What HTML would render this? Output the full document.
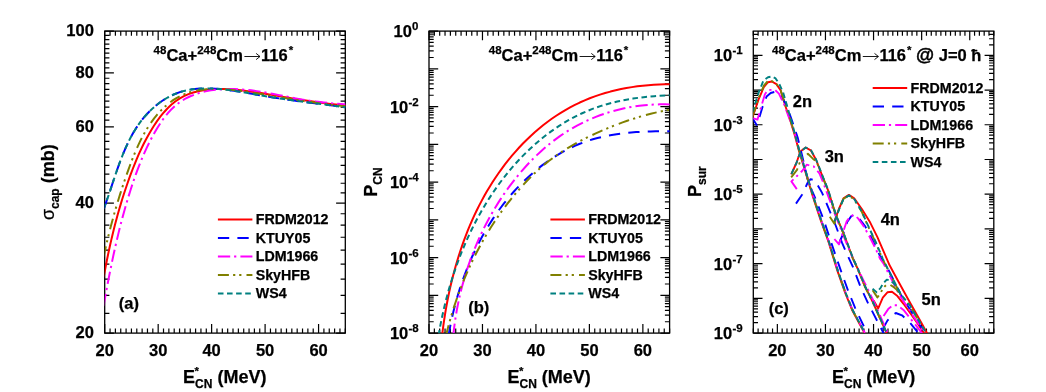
<!DOCTYPE html>
<html><head><meta charset="utf-8"><title>chart</title>
<style>html,body{margin:0;padding:0;background:#fff;}body{width:1046px;height:392px;overflow:hidden;}</style>
</head><body>
<svg width="1046" height="392" viewBox="0 0 1046 392" style="display:block;will-change:transform;font-family:'Liberation Sans',sans-serif;font-weight:bold" fill="#000">
<style>text{stroke:#000;stroke-width:0.25px;stroke-linejoin:round}</style>
<defs><clipPath id="cla"><rect x="104.7" y="31.1" width="240.6" height="302"/></clipPath><clipPath id="clb"><rect x="429" y="31.1" width="240.6" height="302"/></clipPath><clipPath id="clc"><rect x="753.3" y="31.1" width="240.5" height="302"/></clipPath></defs>
<rect width="1046" height="392" fill="#fff"/>
<path d="M104.7,333.1V323.9M104.7,31.1V40.3M110.05,333.1V328.4M110.05,31.1V35.8M115.39,333.1V328.4M115.39,31.1V35.8M120.74,333.1V328.4M120.74,31.1V35.8M126.09,333.1V328.4M126.09,31.1V35.8M131.43,333.1V328.4M131.43,31.1V35.8M136.78,333.1V328.4M136.78,31.1V35.8M142.13,333.1V328.4M142.13,31.1V35.8M147.47,333.1V328.4M147.47,31.1V35.8M152.82,333.1V328.4M152.82,31.1V35.8M158.17,333.1V323.9M158.17,31.1V40.3M163.51,333.1V328.4M163.51,31.1V35.8M168.86,333.1V328.4M168.86,31.1V35.8M174.21,333.1V328.4M174.21,31.1V35.8M179.55,333.1V328.4M179.55,31.1V35.8M184.9,333.1V328.4M184.9,31.1V35.8M190.25,333.1V328.4M190.25,31.1V35.8M195.59,333.1V328.4M195.59,31.1V35.8M200.94,333.1V328.4M200.94,31.1V35.8M206.29,333.1V328.4M206.29,31.1V35.8M211.63,333.1V323.9M211.63,31.1V40.3M216.98,333.1V328.4M216.98,31.1V35.8M222.33,333.1V328.4M222.33,31.1V35.8M227.67,333.1V328.4M227.67,31.1V35.8M233.02,333.1V328.4M233.02,31.1V35.8M238.37,333.1V328.4M238.37,31.1V35.8M243.71,333.1V328.4M243.71,31.1V35.8M249.06,333.1V328.4M249.06,31.1V35.8M254.41,333.1V328.4M254.41,31.1V35.8M259.75,333.1V328.4M259.75,31.1V35.8M265.1,333.1V323.9M265.1,31.1V40.3M270.45,333.1V328.4M270.45,31.1V35.8M275.79,333.1V328.4M275.79,31.1V35.8M281.14,333.1V328.4M281.14,31.1V35.8M286.49,333.1V328.4M286.49,31.1V35.8M291.83,333.1V328.4M291.83,31.1V35.8M297.18,333.1V328.4M297.18,31.1V35.8M302.53,333.1V328.4M302.53,31.1V35.8M307.87,333.1V328.4M307.87,31.1V35.8M313.22,333.1V328.4M313.22,31.1V35.8M318.57,333.1V323.9M318.57,31.1V40.3M323.91,333.1V328.4M323.91,31.1V35.8M329.26,333.1V328.4M329.26,31.1V35.8M334.61,333.1V328.4M334.61,31.1V35.8M339.95,333.1V328.4M339.95,31.1V35.8M345.3,333.1V328.4M345.3,31.1V35.8M104.7,35.32H109.4M345.3,35.32H340.6M104.7,39.63H109.4M345.3,39.63H340.6M104.7,44.05H109.4M345.3,44.05H340.6M104.7,48.57H109.4M345.3,48.57H340.6M104.7,53.2H109.4M345.3,53.2H340.6M104.7,57.95H109.4M345.3,57.95H340.6M104.7,62.83H109.4M345.3,62.83H340.6M104.7,67.83H109.4M345.3,67.83H340.6M104.7,78.26H109.4M345.3,78.26H340.6M104.7,83.7H109.4M345.3,83.7H340.6M104.7,89.3H109.4M345.3,89.3H340.6M104.7,95.07H109.4M345.3,95.07H340.6M104.7,101.03H109.4M345.3,101.03H340.6M104.7,107.18H109.4M345.3,107.18H340.6M104.7,113.54H109.4M345.3,113.54H340.6M104.7,120.13H109.4M345.3,120.13H340.6M104.7,134.03H109.4M345.3,134.03H340.6M104.7,141.39H109.4M345.3,141.39H340.6M104.7,149.05H109.4M345.3,149.05H340.6M104.7,157.04H109.4M345.3,157.04H340.6M104.7,165.38H109.4M345.3,165.38H340.6M104.7,174.11H109.4M345.3,174.11H340.6M104.7,183.27H109.4M345.3,183.27H340.6M104.7,192.89H109.4M345.3,192.89H340.6M104.7,213.76H109.4M345.3,213.76H340.6M104.7,225.14H109.4M345.3,225.14H340.6M104.7,237.25H109.4M345.3,237.25H340.6M104.7,250.19H109.4M345.3,250.19H340.6M104.7,264.1H109.4M345.3,264.1H340.6M104.7,279.12H109.4M345.3,279.12H340.6M104.7,295.45H109.4M345.3,295.45H340.6M104.7,313.33H109.4M345.3,313.33H340.6M104.7,31.1H113.9M345.3,31.1H336.1M104.7,72.97H113.9M345.3,72.97H336.1M104.7,126.95H113.9M345.3,126.95H336.1M104.7,203.04H113.9M345.3,203.04H336.1M104.7,333.1H113.9M345.3,333.1H336.1M429,333.1V323.9M429,31.1V40.3M434.35,333.1V328.4M434.35,31.1V35.8M439.69,333.1V328.4M439.69,31.1V35.8M445.04,333.1V328.4M445.04,31.1V35.8M450.39,333.1V328.4M450.39,31.1V35.8M455.73,333.1V328.4M455.73,31.1V35.8M461.08,333.1V328.4M461.08,31.1V35.8M466.43,333.1V328.4M466.43,31.1V35.8M471.77,333.1V328.4M471.77,31.1V35.8M477.12,333.1V328.4M477.12,31.1V35.8M482.47,333.1V323.9M482.47,31.1V40.3M487.81,333.1V328.4M487.81,31.1V35.8M493.16,333.1V328.4M493.16,31.1V35.8M498.51,333.1V328.4M498.51,31.1V35.8M503.85,333.1V328.4M503.85,31.1V35.8M509.2,333.1V328.4M509.2,31.1V35.8M514.55,333.1V328.4M514.55,31.1V35.8M519.89,333.1V328.4M519.89,31.1V35.8M525.24,333.1V328.4M525.24,31.1V35.8M530.59,333.1V328.4M530.59,31.1V35.8M535.93,333.1V323.9M535.93,31.1V40.3M541.28,333.1V328.4M541.28,31.1V35.8M546.63,333.1V328.4M546.63,31.1V35.8M551.97,333.1V328.4M551.97,31.1V35.8M557.32,333.1V328.4M557.32,31.1V35.8M562.67,333.1V328.4M562.67,31.1V35.8M568.01,333.1V328.4M568.01,31.1V35.8M573.36,333.1V328.4M573.36,31.1V35.8M578.71,333.1V328.4M578.71,31.1V35.8M584.05,333.1V328.4M584.05,31.1V35.8M589.4,333.1V323.9M589.4,31.1V40.3M594.75,333.1V328.4M594.75,31.1V35.8M600.09,333.1V328.4M600.09,31.1V35.8M605.44,333.1V328.4M605.44,31.1V35.8M610.79,333.1V328.4M610.79,31.1V35.8M616.13,333.1V328.4M616.13,31.1V35.8M621.48,333.1V328.4M621.48,31.1V35.8M626.83,333.1V328.4M626.83,31.1V35.8M632.17,333.1V328.4M632.17,31.1V35.8M637.52,333.1V328.4M637.52,31.1V35.8M642.87,333.1V323.9M642.87,31.1V40.3M648.21,333.1V328.4M648.21,31.1V35.8M653.56,333.1V328.4M653.56,31.1V35.8M658.91,333.1V328.4M658.91,31.1V35.8M664.25,333.1V328.4M664.25,31.1V35.8M669.6,333.1V328.4M669.6,31.1V35.8M429,31.1H438.2M669.6,31.1H660.4M429,57.49H433.7M669.6,57.49H664.9M429,50.84H433.7M669.6,50.84H664.9M429,46.12H433.7M669.6,46.12H664.9M429,42.46H433.7M669.6,42.46H664.9M429,39.47H433.7M669.6,39.47H664.9M429,36.95H433.7M669.6,36.95H664.9M429,34.76H433.7M669.6,34.76H664.9M429,32.83H433.7M669.6,32.83H664.9M429,68.85H438.2M669.6,68.85H660.4M429,95.24H433.7M669.6,95.24H664.9M429,88.59H433.7M669.6,88.59H664.9M429,83.87H433.7M669.6,83.87H664.9M429,80.21H433.7M669.6,80.21H664.9M429,77.22H433.7M669.6,77.22H664.9M429,74.7H433.7M669.6,74.7H664.9M429,72.51H433.7M669.6,72.51H664.9M429,70.58H433.7M669.6,70.58H664.9M429,106.6H438.2M669.6,106.6H660.4M429,132.99H433.7M669.6,132.99H664.9M429,126.34H433.7M669.6,126.34H664.9M429,121.62H433.7M669.6,121.62H664.9M429,117.96H433.7M669.6,117.96H664.9M429,114.97H433.7M669.6,114.97H664.9M429,112.45H433.7M669.6,112.45H664.9M429,110.26H433.7M669.6,110.26H664.9M429,108.33H433.7M669.6,108.33H664.9M429,144.35H438.2M669.6,144.35H660.4M429,170.74H433.7M669.6,170.74H664.9M429,164.09H433.7M669.6,164.09H664.9M429,159.37H433.7M669.6,159.37H664.9M429,155.71H433.7M669.6,155.71H664.9M429,152.72H433.7M669.6,152.72H664.9M429,150.2H433.7M669.6,150.2H664.9M429,148.01H433.7M669.6,148.01H664.9M429,146.08H433.7M669.6,146.08H664.9M429,182.1H438.2M669.6,182.1H660.4M429,208.49H433.7M669.6,208.49H664.9M429,201.84H433.7M669.6,201.84H664.9M429,197.12H433.7M669.6,197.12H664.9M429,193.46H433.7M669.6,193.46H664.9M429,190.47H433.7M669.6,190.47H664.9M429,187.95H433.7M669.6,187.95H664.9M429,185.76H433.7M669.6,185.76H664.9M429,183.83H433.7M669.6,183.83H664.9M429,219.85H438.2M669.6,219.85H660.4M429,246.24H433.7M669.6,246.24H664.9M429,239.59H433.7M669.6,239.59H664.9M429,234.87H433.7M669.6,234.87H664.9M429,231.21H433.7M669.6,231.21H664.9M429,228.22H433.7M669.6,228.22H664.9M429,225.7H433.7M669.6,225.7H664.9M429,223.51H433.7M669.6,223.51H664.9M429,221.58H433.7M669.6,221.58H664.9M429,257.6H438.2M669.6,257.6H660.4M429,283.99H433.7M669.6,283.99H664.9M429,277.34H433.7M669.6,277.34H664.9M429,272.62H433.7M669.6,272.62H664.9M429,268.96H433.7M669.6,268.96H664.9M429,265.97H433.7M669.6,265.97H664.9M429,263.45H433.7M669.6,263.45H664.9M429,261.26H433.7M669.6,261.26H664.9M429,259.33H433.7M669.6,259.33H664.9M429,295.35H438.2M669.6,295.35H660.4M429,321.74H433.7M669.6,321.74H664.9M429,315.09H433.7M669.6,315.09H664.9M429,310.37H433.7M669.6,310.37H664.9M429,306.71H433.7M669.6,306.71H664.9M429,303.72H433.7M669.6,303.72H664.9M429,301.2H433.7M669.6,301.2H664.9M429,299.01H433.7M669.6,299.01H664.9M429,297.08H433.7M669.6,297.08H664.9M429,333.1H438.2M669.6,333.1H660.4M753.3,333.1V328.4M753.3,31.1V35.8M758.11,333.1V328.4M758.11,31.1V35.8M762.92,333.1V328.4M762.92,31.1V35.8M767.73,333.1V328.4M767.73,31.1V35.8M772.54,333.1V328.4M772.54,31.1V35.8M777.35,333.1V323.9M777.35,31.1V40.3M782.16,333.1V328.4M782.16,31.1V35.8M786.97,333.1V328.4M786.97,31.1V35.8M791.78,333.1V328.4M791.78,31.1V35.8M796.59,333.1V328.4M796.59,31.1V35.8M801.4,333.1V328.4M801.4,31.1V35.8M806.21,333.1V328.4M806.21,31.1V35.8M811.02,333.1V328.4M811.02,31.1V35.8M815.83,333.1V328.4M815.83,31.1V35.8M820.64,333.1V328.4M820.64,31.1V35.8M825.45,333.1V323.9M825.45,31.1V40.3M830.26,333.1V328.4M830.26,31.1V35.8M835.07,333.1V328.4M835.07,31.1V35.8M839.88,333.1V328.4M839.88,31.1V35.8M844.69,333.1V328.4M844.69,31.1V35.8M849.5,333.1V328.4M849.5,31.1V35.8M854.31,333.1V328.4M854.31,31.1V35.8M859.12,333.1V328.4M859.12,31.1V35.8M863.93,333.1V328.4M863.93,31.1V35.8M868.74,333.1V328.4M868.74,31.1V35.8M873.55,333.1V323.9M873.55,31.1V40.3M878.36,333.1V328.4M878.36,31.1V35.8M883.17,333.1V328.4M883.17,31.1V35.8M887.98,333.1V328.4M887.98,31.1V35.8M892.79,333.1V328.4M892.79,31.1V35.8M897.6,333.1V328.4M897.6,31.1V35.8M902.41,333.1V328.4M902.41,31.1V35.8M907.22,333.1V328.4M907.22,31.1V35.8M912.03,333.1V328.4M912.03,31.1V35.8M916.84,333.1V328.4M916.84,31.1V35.8M921.65,333.1V323.9M921.65,31.1V40.3M926.46,333.1V328.4M926.46,31.1V35.8M931.27,333.1V328.4M931.27,31.1V35.8M936.08,333.1V328.4M936.08,31.1V35.8M940.89,333.1V328.4M940.89,31.1V35.8M945.7,333.1V328.4M945.7,31.1V35.8M950.51,333.1V328.4M950.51,31.1V35.8M955.32,333.1V328.4M955.32,31.1V35.8M960.13,333.1V328.4M960.13,31.1V35.8M964.94,333.1V328.4M964.94,31.1V35.8M969.75,333.1V323.9M969.75,31.1V40.3M974.56,333.1V328.4M974.56,31.1V35.8M979.37,333.1V328.4M979.37,31.1V35.8M984.18,333.1V328.4M984.18,31.1V35.8M988.99,333.1V328.4M988.99,31.1V35.8M993.8,333.1V328.4M993.8,31.1V35.8M753.3,55.3H762.5M993.8,55.3H984.6M753.3,44.85H758M993.8,44.85H989.1M753.3,38.73H758M993.8,38.73H989.1M753.3,34.39H758M993.8,34.39H989.1M753.3,90.03H762.5M993.8,90.03H984.6M753.3,79.57H758M993.8,79.57H989.1M753.3,73.46H758M993.8,73.46H989.1M753.3,69.12H758M993.8,69.12H989.1M753.3,65.75H758M993.8,65.75H989.1M753.3,63H758M993.8,63H989.1M753.3,60.68H758M993.8,60.68H989.1M753.3,58.67H758M993.8,58.67H989.1M753.3,56.89H758M993.8,56.89H989.1M753.3,124.75H762.5M993.8,124.75H984.6M753.3,114.3H758M993.8,114.3H989.1M753.3,108.18H758M993.8,108.18H989.1M753.3,103.84H758M993.8,103.84H989.1M753.3,100.48H758M993.8,100.48H989.1M753.3,97.73H758M993.8,97.73H989.1M753.3,95.4H758M993.8,95.4H989.1M753.3,93.39H758M993.8,93.39H989.1M753.3,91.61H758M993.8,91.61H989.1M753.3,159.48H762.5M993.8,159.48H984.6M753.3,149.02H758M993.8,149.02H989.1M753.3,142.91H758M993.8,142.91H989.1M753.3,138.57H758M993.8,138.57H989.1M753.3,135.2H758M993.8,135.2H989.1M753.3,132.45H758M993.8,132.45H989.1M753.3,130.13H758M993.8,130.13H989.1M753.3,128.12H758M993.8,128.12H989.1M753.3,126.34H758M993.8,126.34H989.1M753.3,194.2H762.5M993.8,194.2H984.6M753.3,183.75H758M993.8,183.75H989.1M753.3,177.63H758M993.8,177.63H989.1M753.3,173.29H758M993.8,173.29H989.1M753.3,169.93H758M993.8,169.93H989.1M753.3,167.18H758M993.8,167.18H989.1M753.3,164.85H758M993.8,164.85H989.1M753.3,162.84H758M993.8,162.84H989.1M753.3,161.06H758M993.8,161.06H989.1M753.3,228.93H762.5M993.8,228.93H984.6M753.3,218.47H758M993.8,218.47H989.1M753.3,212.36H758M993.8,212.36H989.1M753.3,208.02H758M993.8,208.02H989.1M753.3,204.65H758M993.8,204.65H989.1M753.3,201.9H758M993.8,201.9H989.1M753.3,199.58H758M993.8,199.58H989.1M753.3,197.57H758M993.8,197.57H989.1M753.3,195.79H758M993.8,195.79H989.1M753.3,263.65H762.5M993.8,263.65H984.6M753.3,253.2H758M993.8,253.2H989.1M753.3,247.08H758M993.8,247.08H989.1M753.3,242.74H758M993.8,242.74H989.1M753.3,239.38H758M993.8,239.38H989.1M753.3,236.63H758M993.8,236.63H989.1M753.3,234.3H758M993.8,234.3H989.1M753.3,232.29H758M993.8,232.29H989.1M753.3,230.51H758M993.8,230.51H989.1M753.3,298.38H762.5M993.8,298.38H984.6M753.3,287.92H758M993.8,287.92H989.1M753.3,281.81H758M993.8,281.81H989.1M753.3,277.47H758M993.8,277.47H989.1M753.3,274.1H758M993.8,274.1H989.1M753.3,271.35H758M993.8,271.35H989.1M753.3,269.03H758M993.8,269.03H989.1M753.3,267.02H758M993.8,267.02H989.1M753.3,265.24H758M993.8,265.24H989.1M753.3,333.1H762.5M993.8,333.1H984.6M753.3,322.65H758M993.8,322.65H989.1M753.3,316.53H758M993.8,316.53H989.1M753.3,312.19H758M993.8,312.19H989.1M753.3,308.83H758M993.8,308.83H989.1M753.3,306.08H758M993.8,306.08H989.1M753.3,303.75H758M993.8,303.75H989.1M753.3,301.74H758M993.8,301.74H989.1M753.3,299.96H758M993.8,299.96H989.1" fill="none" stroke="#000" stroke-width="1.2"/>
<rect x="104.7" y="31.1" width="240.6" height="302" fill="none" stroke="#000" stroke-width="1.3"/>
<text x="104.7" y="356.3" font-size="16.5" text-anchor="middle" >20</text>
<text x="158.17" y="356.3" font-size="16.5" text-anchor="middle" >30</text>
<text x="211.63" y="356.3" font-size="16.5" text-anchor="middle" >40</text>
<text x="265.1" y="356.3" font-size="16.5" text-anchor="middle" >50</text>
<text x="318.57" y="356.3" font-size="16.5" text-anchor="middle" >60</text>
<text x="93.9" y="36" font-size="16.5" text-anchor="end" >100</text>
<text x="93.9" y="77.87" font-size="16.5" text-anchor="end" >80</text>
<text x="93.9" y="131.85" font-size="16.5" text-anchor="end" >60</text>
<text x="93.9" y="207.94" font-size="16.5" text-anchor="end" >40</text>
<text x="93.9" y="338" font-size="16.5" text-anchor="end" >20</text>
<rect x="429" y="31.1" width="240.6" height="302" fill="none" stroke="#000" stroke-width="1.3"/>
<text x="429" y="356.3" font-size="16.5" text-anchor="middle" >20</text>
<text x="482.47" y="356.3" font-size="16.5" text-anchor="middle" >30</text>
<text x="535.93" y="356.3" font-size="16.5" text-anchor="middle" >40</text>
<text x="589.4" y="356.3" font-size="16.5" text-anchor="middle" >50</text>
<text x="642.87" y="356.3" font-size="16.5" text-anchor="middle" >60</text>
<text x="411.9" y="37" font-size="16.5" text-anchor="end">10</text>
<text x="412.09999999999997" y="30" font-size="11.5" text-anchor="start">0</text>
<text x="408.3" y="112.5" font-size="16.5" text-anchor="end">10</text>
<text x="408.5" y="105.5" font-size="11.5" text-anchor="start">-2</text>
<text x="408.3" y="188" font-size="16.5" text-anchor="end">10</text>
<text x="408.5" y="181" font-size="11.5" text-anchor="start">-4</text>
<text x="408.3" y="263.5" font-size="16.5" text-anchor="end">10</text>
<text x="408.5" y="256.5" font-size="11.5" text-anchor="start">-6</text>
<text x="408.3" y="339" font-size="16.5" text-anchor="end">10</text>
<text x="408.5" y="332" font-size="11.5" text-anchor="start">-8</text>
<rect x="753.3" y="31.1" width="240.5" height="302" fill="none" stroke="#000" stroke-width="1.3"/>
<text x="777.35" y="356.3" font-size="16.5" text-anchor="middle" >20</text>
<text x="825.45" y="356.3" font-size="16.5" text-anchor="middle" >30</text>
<text x="873.55" y="356.3" font-size="16.5" text-anchor="middle" >40</text>
<text x="921.65" y="356.3" font-size="16.5" text-anchor="middle" >50</text>
<text x="969.75" y="356.3" font-size="16.5" text-anchor="middle" >60</text>
<text x="732.2" y="61.2" font-size="16.5" text-anchor="end">10</text>
<text x="732.5" y="54.2" font-size="11.5" text-anchor="start">-1</text>
<text x="732.2" y="130.65" font-size="16.5" text-anchor="end">10</text>
<text x="732.5" y="123.65" font-size="11.5" text-anchor="start">-3</text>
<text x="732.2" y="200.1" font-size="16.5" text-anchor="end">10</text>
<text x="732.5" y="193.1" font-size="11.5" text-anchor="start">-5</text>
<text x="732.2" y="269.55" font-size="16.5" text-anchor="end">10</text>
<text x="732.5" y="262.55" font-size="11.5" text-anchor="start">-7</text>
<text x="732.2" y="339" font-size="16.5" text-anchor="end">10</text>
<text x="732.5" y="332" font-size="11.5" text-anchor="start">-9</text>
<path d="M103.73,277.11 L104.69,271.82 L105.68,266.54 L106.7,261.28 L107.77,256.03 L108.86,250.8 L110,245.58 L111.18,240.38 L112.4,235.19 L113.66,230.02 L114.97,224.86 L116.32,219.72 L117.72,214.59 L119.16,209.49 L120.66,204.39 L122.2,199.32 L123.8,194.26 L125.46,189.22 L127.16,184.2 L128.93,179.2 L130.75,174.21 L132.63,169.24 L134.57,164.29 L136.59,159.37 L138.7,154.47 L140.91,149.59 L143.23,144.75 L145.69,139.93 L148.28,135.15 L151.04,130.41 L153.95,125.71 L157.04,121.12 L160.31,116.68 L163.76,112.45 L167.4,108.48 L171.23,104.82 L175.25,101.52 L179.48,98.64 L183.9,96.19 L188.51,94.15 L193.27,92.49 L198.19,91.18 L203.23,90.2 L208.38,89.51 L213.64,89.1 L218.97,88.94 L224.37,89 L229.81,89.25 L235.29,89.67 L240.78,90.23 L246.27,90.91 L251.73,91.67 L257.17,92.5 L262.55,93.36 L267.87,94.24 L273.13,95.12 L278.35,96 L283.53,96.88 L288.69,97.76 L293.84,98.62 L298.98,99.47 L304.12,100.29 L309.29,101.09 L314.48,101.86 L319.7,102.59 L324.98,103.28 L330.31,103.93 L335.71,104.53 L341.18,105.07 L346.75,105.55" fill="none" stroke="#ff0000" stroke-width="2.0" clip-path="url(#cla)" stroke-linejoin="round"/>
<path d="M103.69,208.79 L105.2,204.81 L106.67,200.74 L108.12,196.6 L109.55,192.39 L110.97,188.12 L112.4,183.81 L113.84,179.47 L115.3,175.1 L116.8,170.72 L118.34,166.34 L119.93,161.97 L121.59,157.62 L123.32,153.3 L125.13,149.02 L127.04,144.8 L129.04,140.64 L131.16,136.55 L133.41,132.55 L135.78,128.65 L138.3,124.85 L140.97,121.18 L143.8,117.63 L146.79,114.22 L149.92,110.97 L153.21,107.89 L156.63,104.99 L160.19,102.28 L163.88,99.78 L167.69,97.51 L171.62,95.47 L175.66,93.69 L179.81,92.16 L184.06,90.91 L188.4,89.94 L192.82,89.22 L197.3,88.73 L201.83,88.46 L206.4,88.38 L210.99,88.47 L215.59,88.71 L220.19,89.08 L224.78,89.55 L229.37,90.13 L233.94,90.78 L238.51,91.49 L243.07,92.25 L247.62,93.05 L252.15,93.86 L256.68,94.67 L261.19,95.47 L265.69,96.24 L270.18,96.98 L274.65,97.69 L279.12,98.38 L283.59,99.04 L288.05,99.69 L292.5,100.32 L296.96,100.94 L301.42,101.54 L305.89,102.13 L310.36,102.72 L314.84,103.3 L319.33,103.88 L323.83,104.46 L328.34,105.05 L332.88,105.63 L337.43,106.23 L342,106.83 L346.59,107.45" fill="none" stroke="#0000ff" stroke-width="2.0" stroke-dasharray="11.3 8.2" clip-path="url(#cla)" stroke-linejoin="round"/>
<path d="M103.58,306.01 L104.58,300.43 L105.59,294.85 L106.62,289.27 L107.67,283.69 L108.75,278.1 L109.84,272.52 L110.97,266.95 L112.12,261.38 L113.3,255.81 L114.52,250.25 L115.76,244.7 L117.05,239.16 L118.37,233.63 L119.73,228.11 L121.14,222.61 L122.59,217.12 L124.08,211.65 L125.62,206.2 L127.21,200.76 L128.86,195.35 L130.55,189.95 L132.31,184.58 L134.12,179.24 L136,173.92 L137.96,168.62 L140,163.35 L142.15,158.1 L144.41,152.87 L146.8,147.68 L149.31,142.5 L151.97,137.36 L154.79,132.24 L157.78,127.18 L160.96,122.25 L164.34,117.52 L167.95,113.05 L171.8,108.9 L175.91,105.15 L180.29,101.84 L184.93,98.97 L189.79,96.51 L194.85,94.44 L200.09,92.73 L205.48,91.38 L211,90.35 L216.62,89.62 L222.32,89.17 L228.07,88.98 L233.85,89.03 L239.63,89.28 L245.39,89.73 L251.11,90.35 L256.78,91.12 L262.42,92 L268.02,92.98 L273.6,94.02 L279.17,95.11 L284.72,96.21 L290.27,97.31 L295.82,98.37 L301.39,99.38 L306.96,100.3 L312.57,101.12 L318.19,101.84 L323.83,102.49 L329.5,103.07 L335.18,103.61 L340.88,104.12 L346.59,104.62" fill="none" stroke="#ff00ff" stroke-width="2.0" stroke-dasharray="12.3 3.9 2.2 4.1" clip-path="url(#cla)" stroke-linejoin="round"/>
<path d="M103.5,257.11 L104.62,252.01 L105.76,246.96 L106.93,241.95 L108.14,236.97 L109.37,232.02 L110.63,227.1 L111.93,222.2 L113.25,217.32 L114.62,212.47 L116.02,207.63 L117.45,202.8 L118.92,197.98 L120.44,193.17 L121.99,188.36 L123.59,183.55 L125.22,178.74 L126.91,173.92 L128.63,169.09 L130.41,164.26 L132.25,159.42 L134.17,154.61 L136.18,149.83 L138.3,145.09 L140.54,140.41 L142.92,135.81 L145.46,131.29 L148.16,126.88 L151.04,122.58 L154.12,118.41 L157.39,114.41 L160.85,110.6 L164.49,107.03 L168.31,103.72 L172.29,100.71 L176.44,98.05 L180.75,95.75 L185.2,93.83 L189.79,92.26 L194.5,91.03 L199.33,90.1 L204.24,89.45 L209.25,89.07 L214.32,88.91 L219.46,88.97 L224.64,89.21 L229.85,89.62 L235.08,90.16 L240.33,90.82 L245.57,91.56 L250.79,92.37 L255.98,93.22 L261.13,94.09 L266.23,94.96 L271.28,95.81 L276.28,96.65 L281.26,97.48 L286.21,98.29 L291.14,99.09 L296.07,99.87 L300.99,100.63 L305.93,101.36 L310.88,102.08 L315.86,102.78 L320.87,103.45 L325.92,104.09 L331.02,104.71 L336.19,105.31 L341.41,105.87 L346.72,106.4" fill="none" stroke="#808000" stroke-width="2.0" stroke-dasharray="11 4.2 2.2 3.9 2.2 5.1" clip-path="url(#cla)" stroke-linejoin="round"/>
<path d="M103.69,208.79 L105.2,204.81 L106.67,200.74 L108.12,196.6 L109.55,192.39 L110.97,188.12 L112.4,183.81 L113.84,179.47 L115.3,175.1 L116.8,170.72 L118.34,166.34 L119.93,161.97 L121.59,157.62 L123.32,153.3 L125.13,149.02 L127.04,144.8 L129.04,140.64 L131.16,136.55 L133.41,132.55 L135.78,128.65 L138.3,124.85 L140.97,121.18 L143.8,117.63 L146.79,114.22 L149.92,110.97 L153.21,107.89 L156.63,104.99 L160.19,102.28 L163.88,99.78 L167.69,97.51 L171.62,95.47 L175.66,93.69 L179.81,92.16 L184.06,90.91 L188.4,89.94 L192.82,89.22 L197.3,88.73 L201.83,88.46 L206.4,88.38 L210.99,88.47 L215.59,88.71 L220.19,89.08 L224.78,89.55 L229.37,90.13 L233.94,90.78 L238.51,91.49 L243.07,92.25 L247.62,93.05 L252.15,93.86 L256.68,94.67 L261.19,95.47 L265.69,96.24 L270.18,96.98 L274.65,97.69 L279.12,98.38 L283.59,99.04 L288.05,99.69 L292.5,100.32 L296.96,100.94 L301.42,101.54 L305.89,102.13 L310.36,102.72 L314.84,103.3 L319.33,103.88 L323.83,104.46 L328.34,105.05 L332.88,105.63 L337.43,106.23 L342,106.83 L346.59,107.45" fill="none" stroke="#008080" stroke-width="2.0" stroke-dasharray="5.6 3.5" clip-path="url(#cla)" stroke-linejoin="round"/>
<path d="M442.07,335.8 L442.71,330.48 L443.41,325.15 L444.18,319.82 L445,314.48 L445.9,309.14 L446.86,303.8 L447.88,298.47 L448.97,293.14 L450.13,287.82 L451.37,282.51 L452.67,277.21 L454.05,271.92 L455.5,266.66 L457.02,261.41 L458.62,256.19 L460.3,250.99 L462.06,245.81 L463.9,240.67 L465.82,235.56 L467.82,230.48 L469.9,225.43 L472.07,220.43 L474.32,215.46 L476.67,210.54 L479.1,205.66 L481.61,200.84 L484.22,196.06 L486.92,191.33 L489.72,186.66 L492.61,182.04 L495.59,177.49 L498.67,172.99 L501.85,168.56 L505.12,164.2 L508.49,159.91 L511.96,155.69 L515.53,151.56 L519.19,147.51 L522.94,143.55 L526.79,139.69 L530.72,135.93 L534.75,132.27 L538.87,128.73 L543.07,125.29 L547.36,121.98 L551.74,118.79 L556.2,115.73 L560.75,112.8 L565.38,110.02 L570.1,107.37 L574.89,104.88 L579.76,102.53 L584.71,100.34 L589.73,98.3 L594.82,96.41 L599.97,94.66 L605.17,93.05 L610.43,91.59 L615.73,90.27 L621.08,89.08 L626.46,88.03 L631.87,87.12 L637.31,86.33 L642.77,85.68 L648.25,85.15 L653.74,84.75 L659.23,84.47 L664.73,84.31 L670.23,84.27" fill="none" stroke="#ff0000" stroke-width="2.0" clip-path="url(#clb)" stroke-linejoin="round"/>
<path d="M448.5,335.84 L449.3,331.15 L450.18,326.46 L451.12,321.77 L452.14,317.07 L453.22,312.39 L454.38,307.71 L455.6,303.03 L456.9,298.37 L458.27,293.72 L459.71,289.09 L461.23,284.47 L462.82,279.88 L464.48,275.3 L466.21,270.75 L468.02,266.23 L469.9,261.74 L471.86,257.27 L473.89,252.84 L476,248.45 L478.18,244.1 L480.43,239.78 L482.76,235.51 L485.17,231.29 L487.66,227.11 L490.22,222.98 L492.85,218.9 L495.57,214.88 L498.36,210.91 L501.23,207.01 L504.18,203.16 L507.2,199.38 L510.31,195.66 L513.49,192.02 L516.76,188.44 L520.1,184.93 L523.52,181.51 L527.02,178.16 L530.6,174.89 L534.26,171.72 L537.99,168.63 L541.79,165.65 L545.67,162.77 L549.62,160 L553.64,157.34 L557.73,154.8 L561.89,152.39 L566.12,150.09 L570.42,147.94 L574.78,145.92 L579.2,144.04 L583.69,142.3 L588.24,140.72 L592.84,139.29 L597.51,138.01 L602.22,136.87 L606.97,135.86 L611.77,134.97 L616.59,134.2 L621.44,133.53 L626.3,132.97 L631.19,132.5 L636.08,132.12 L640.97,131.81 L645.86,131.58 L650.74,131.41 L655.6,131.29 L660.44,131.22 L665.26,131.19 L670.05,131.19" fill="none" stroke="#0000ff" stroke-width="2.0" stroke-dasharray="11.3 8.2" clip-path="url(#clb)" stroke-linejoin="round"/>
<path d="M453.25,335.76 L453.77,330.8 L454.38,325.83 L455.06,320.87 L455.83,315.91 L456.67,310.95 L457.6,306 L458.61,301.06 L459.7,296.13 L460.87,291.21 L462.13,286.3 L463.46,281.41 L464.87,276.54 L466.37,271.69 L467.94,266.86 L469.59,262.06 L471.33,257.28 L473.14,252.53 L475.04,247.8 L477.01,243.11 L479.06,238.45 L481.19,233.83 L483.4,229.25 L485.69,224.7 L488.06,220.2 L490.51,215.73 L493.03,211.32 L495.64,206.95 L498.32,202.62 L501.08,198.35 L503.92,194.13 L506.84,189.97 L509.83,185.86 L512.91,181.81 L516.05,177.82 L519.28,173.89 L522.59,170.04 L525.97,166.25 L529.43,162.54 L532.97,158.91 L536.58,155.37 L540.28,151.91 L544.05,148.55 L547.9,145.3 L551.83,142.14 L555.84,139.09 L559.92,136.16 L564.09,133.34 L568.33,130.64 L572.64,128.06 L577.03,125.61 L581.48,123.29 L586.01,121.09 L590.6,119.03 L595.25,117.1 L599.97,115.3 L604.74,113.64 L609.56,112.11 L614.43,110.72 L619.35,109.46 L624.31,108.34 L629.31,107.35 L634.34,106.5 L639.41,105.79 L644.51,105.22 L649.63,104.78 L654.77,104.48 L659.93,104.32 L665.11,104.3 L670.3,104.42" fill="none" stroke="#ff00ff" stroke-width="2.0" stroke-dasharray="12.3 3.9 2.2 4.1" clip-path="url(#clb)" stroke-linejoin="round"/>
<path d="M445.91,335.91 L447.07,331.19 L448.29,326.47 L449.58,321.75 L450.92,317.05 L452.33,312.35 L453.8,307.67 L455.33,303.01 L456.92,298.35 L458.58,293.72 L460.3,289.11 L462.08,284.51 L463.92,279.94 L465.82,275.39 L467.79,270.86 L469.82,266.36 L471.91,261.89 L474.07,257.45 L476.29,253.04 L478.57,248.67 L480.91,244.33 L483.32,240.02 L485.79,235.75 L488.32,231.52 L490.91,227.33 L493.57,223.18 L496.3,219.08 L499.08,215.02 L501.93,211.01 L504.85,207.05 L507.82,203.13 L510.86,199.27 L513.97,195.46 L517.14,191.7 L520.37,188.01 L523.67,184.37 L527.03,180.79 L530.46,177.28 L533.97,173.85 L537.55,170.51 L541.2,167.25 L544.94,164.1 L548.76,161.05 L552.66,158.09 L556.64,155.25 L560.69,152.5 L564.82,149.85 L569.01,147.3 L573.26,144.84 L577.57,142.46 L581.93,140.16 L586.32,137.93 L590.76,135.77 L595.23,133.67 L599.73,131.64 L604.25,129.66 L608.8,127.75 L613.38,125.9 L617.98,124.12 L622.6,122.41 L627.24,120.78 L631.91,119.22 L636.59,117.74 L641.3,116.33 L646.02,115.01 L650.77,113.78 L655.53,112.63 L660.3,111.58 L665.09,110.61 L669.9,109.74" fill="none" stroke="#808000" stroke-width="2.0" stroke-dasharray="11 4.2 2.2 3.9 2.2 5.1" clip-path="url(#clb)" stroke-linejoin="round"/>
<path d="M438.56,335.64 L439.43,330.53 L440.37,325.41 L441.37,320.29 L442.45,315.17 L443.59,310.05 L444.79,304.93 L446.07,299.81 L447.42,294.71 L448.83,289.61 L450.32,284.53 L451.87,279.46 L453.5,274.4 L455.2,269.37 L456.97,264.36 L458.82,259.37 L460.73,254.4 L462.73,249.46 L464.79,244.56 L466.93,239.68 L469.15,234.84 L471.44,230.04 L473.81,225.27 L476.26,220.55 L478.78,215.87 L481.38,211.23 L484.06,206.64 L486.82,202.11 L489.66,197.62 L492.58,193.19 L495.58,188.82 L498.66,184.51 L501.83,180.25 L505.07,176.07 L508.4,171.94 L511.81,167.89 L515.31,163.9 L518.89,159.99 L522.55,156.16 L526.3,152.41 L530.13,148.75 L534.03,145.18 L538.02,141.71 L542.09,138.33 L546.23,135.06 L550.45,131.91 L554.75,128.86 L559.13,125.94 L563.58,123.13 L568.11,120.46 L572.71,117.91 L577.38,115.51 L582.13,113.24 L586.95,111.12 L591.83,109.15 L596.79,107.33 L601.82,105.67 L606.9,104.16 L612.04,102.79 L617.23,101.55 L622.45,100.44 L627.71,99.46 L632.99,98.59 L638.3,97.83 L643.62,97.18 L648.94,96.62 L654.26,96.16 L659.58,95.78 L664.88,95.48 L670.16,95.25" fill="none" stroke="#008080" stroke-width="2.0" stroke-dasharray="5.6 3.5" clip-path="url(#clb)" stroke-linejoin="round"/>
<path d="M752.3,118 L758.4,99.9 L763.8,87.2 L768,82.2 L771.8,81.5 L776.4,84.1 L780.6,90.3 L785.6,106.8 L789.6,118.3 L794.7,134.9 L798.7,149.9 L803.3,165 L812.9,196.8 L820.6,219.9 L828.3,241.3 L837.6,271.4 L845.2,292.9 L852.1,310 L865,334" fill="none" stroke="#ff0000" stroke-width="1.9" clip-path="url(#clc)" stroke-linejoin="round"/>
<path d="M791.2,174.4 L796.4,163 L800.4,151.5 L805.6,147.5 L810.8,150.3 L815.9,159.5 L822.1,175.3 L828.2,190.6 L835.9,215.3 L843.6,233.7 L852.8,258.2 L857.5,268.4 L865.1,286.8 L872.8,302.1 L887,334" fill="none" stroke="#ff0000" stroke-width="1.9" clip-path="url(#clc)" stroke-linejoin="round"/>
<path d="M834.4,221.4 L838.9,209 L843.5,198.3 L848.9,194.9 L854.2,198.3 L862,209.2 L869.6,221.4 L877.3,236.8 L889.6,265.3 L898.8,282.2 L908,299 L921.9,323.7 L927.5,334" fill="none" stroke="#ff0000" stroke-width="1.9" clip-path="url(#clc)" stroke-linejoin="round"/>
<path d="M873.6,300.5 L878.2,308.4 L882.8,297.7 L887.4,292.3 L892,291.8 L897.4,296.1 L903.5,303.8 L911.2,314.5 L918.8,325.2 L924.5,334" fill="none" stroke="#ff0000" stroke-width="1.9" clip-path="url(#clc)" stroke-linejoin="round"/>
<path d="M752,117.5 L757,125.5" fill="none" stroke="#0000ff" stroke-width="1.9" stroke-dasharray="11.3 8.2" clip-path="url(#clc)" stroke-linejoin="round"/>
<path d="M759.5,117 L762.6,106.8 L766.6,96.5 L770.7,93 L774.7,91.9 L778.5,93.5 L781.8,96.8 L786.7,105.7 L791.8,120 L797.6,137.2 L802.1,155.6 L808.5,182.5 L816,200 L823.7,219.9 L831.3,242.9 L840.6,269.9 L848.3,291.3 L855.2,308.2 L867.5,334" fill="none" stroke="#0000ff" stroke-width="1.9" stroke-dasharray="11.3 8.2" clip-path="url(#clc)" stroke-linejoin="round"/>
<path d="M796,203.6 L802.2,194.5 L807.5,183 L810.6,179.1 L815,180.5 L822.1,192.9 L828.3,207.7 L835.9,226 L842.1,242.9 L846.7,253.6 L852.9,266.8 L860.5,286.8 L868.2,303.6 L884,334" fill="none" stroke="#0000ff" stroke-width="1.9" stroke-dasharray="11.3 8.2" clip-path="url(#clc)" stroke-linejoin="round"/>
<path d="M839.5,242 L843.3,233.5 L847.2,222 L851.3,216.1 L854.8,214.6 L858.8,218 L865,226 L871,237 L877,249.5 L881.6,259.5 L886,265 L893.5,280 L901,295 L908.6,307.2 L925.4,334" fill="none" stroke="#0000ff" stroke-width="1.9" stroke-dasharray="11.3 8.2" clip-path="url(#clc)" stroke-linejoin="round"/>
<path d="M882.8,329 L887.4,320.6 L891.5,316 L895.8,313 L902,315.3 L909.6,322.2 L915.8,329.8 L919,334" fill="none" stroke="#0000ff" stroke-width="1.9" stroke-dasharray="11.3 8.2" clip-path="url(#clc)" stroke-linejoin="round"/>
<path d="M752,117.8 L757.5,119.6 L761.5,105.7 L764.9,94.2 L767.8,90.2 L774.7,89.6 L778.9,93.6 L784.2,104.5 L788.8,117.1 L792.2,126.3 L795.2,134.9 L799.2,149.9 L803.8,165 L813.4,196.8 L821.1,219.9 L828.8,241.3 L838.1,271.4 L845.7,292.9 L852.6,310 L865.5,334" fill="none" stroke="#ff00ff" stroke-width="1.9" stroke-dasharray="12.3 3.9 2.2 4.1" clip-path="url(#clc)" stroke-linejoin="round"/>
<path d="M796.8,189.1 L791.4,181.4 L797,176 L802.1,171 L806.7,164.7 L813.6,166.4 L819.4,173.3 L823.4,183 L828.5,197 L833.5,210.5 L839,224.5 L846.8,244 L854.5,262 L865.2,284 L873.8,301.5 L888.2,334" fill="none" stroke="#ff00ff" stroke-width="1.9" stroke-dasharray="12.3 3.9 2.2 4.1" clip-path="url(#clc)" stroke-linejoin="round"/>
<path d="M834.4,239 L839,244.4 L842.8,232.9 L846.7,221.4 L850.5,216.1 L854.3,215 L858.1,218.4 L863.5,226 L869.6,236.8 L875.8,249 L880.2,259 L883.8,264 L891.5,279.3 L899.2,294.6 L907.4,306.9 L925,334" fill="none" stroke="#ff00ff" stroke-width="1.9" stroke-dasharray="12.3 3.9 2.2 4.1" clip-path="url(#clc)" stroke-linejoin="round"/>
<path d="M883.6,316 L888.2,309.1 L892.8,305.3 L897.4,305.3 L903.5,309.9 L909.6,317.6 L915.8,325.2 L922.5,334" fill="none" stroke="#ff00ff" stroke-width="1.9" stroke-dasharray="12.3 3.9 2.2 4.1" clip-path="url(#clc)" stroke-linejoin="round"/>
<path d="M752.3,117.5 L758.4,98.5 L763.8,85.7 L768,80.7 L771.8,81 L776.4,83.8 L780.6,90 L785.6,106 L789.9,118.3 L795,134.9 L799,149.9 L803.6,165 L813.2,196.8 L820.9,219.9 L828.6,241.3 L837.9,271.4 L845.5,292.9 L852.4,310 L865.3,334" fill="none" stroke="#808000" stroke-width="1.9" stroke-dasharray="11 4.2 2.2 3.9 2.2 5.1" clip-path="url(#clc)" stroke-linejoin="round"/>
<path d="M791.2,177.3 L797,169.9 L801.5,158 L807.9,153.8 L813.1,158.9 L816.5,161.5 L822.1,175.8 L828.2,191 L835.9,215.6 L843.6,234 L852.8,258.4 L857.5,268.6 L865.1,287 L872.8,302.3 L887,334" fill="none" stroke="#808000" stroke-width="1.9" stroke-dasharray="11 4.2 2.2 3.9 2.2 5.1" clip-path="url(#clc)" stroke-linejoin="round"/>
<path d="M829.8,216.8 L834.4,223.7 L838.9,209.5 L843.5,198.8 L848.9,195.6 L854.2,199.5 L861.9,212.1 L866.6,223 L875.8,242.9 L882.6,259 L885,263.8 L892.7,279.1 L900.4,294.4 L909.6,305.3 L920.4,323.7 L926.5,334" fill="none" stroke="#808000" stroke-width="1.9" stroke-dasharray="11 4.2 2.2 3.9 2.2 5.1" clip-path="url(#clc)" stroke-linejoin="round"/>
<path d="M872.6,290.3 L877.4,297.4 L880,294 L883.2,288 L886.5,284.6 L889.3,284.2 L893,286.6 L896.5,289.5 L900,294" fill="none" stroke="#808000" stroke-width="1.9" stroke-dasharray="11 4.2 2.2 3.9 2.2 5.1" clip-path="url(#clc)" stroke-linejoin="round"/>
<path d="M752.3,112.5 L758.8,92.2 L763.4,80.7 L768,77.2 L771.8,76.5 L775.6,78.4 L779.5,84.5 L783.3,92.9 L787.1,105.9 L790.9,119 L795.2,134.9 L799.2,149.9 L803.8,165 L813.4,196.8 L821.1,219.9 L828.8,241.3 L838.1,271.4 L845.7,292.9 L852.6,310 L865.5,334" fill="none" stroke="#008080" stroke-width="1.9" stroke-dasharray="5.6 3.5" clip-path="url(#clc)" stroke-linejoin="round"/>
<path d="M791.4,174 L796.6,162.6 L800.6,151.3 L805.8,147.5 L811,150.3 L816.1,159.5 L822.3,175.3 L828.4,190.6 L836.1,215.3 L843.8,233.7 L853,258.2 L857.7,268.4 L865.3,286.8 L873,302.1 L887.2,334" fill="none" stroke="#008080" stroke-width="1.9" stroke-dasharray="5.6 3.5" clip-path="url(#clc)" stroke-linejoin="round"/>
<path d="M834.6,221.4 L839.1,209.3 L843.7,198.6 L849.1,195.4 L854.4,199.3 L862.1,211.9 L866.8,222.8 L876,242.7 L882.8,258.8 L885.2,263.6 L892.9,278.9 L900.6,294.2 L909.8,305.1 L920.6,323.5 L926.7,334" fill="none" stroke="#008080" stroke-width="1.9" stroke-dasharray="5.6 3.5" clip-path="url(#clc)" stroke-linejoin="round"/>
<path d="M872.6,288.8 L876.8,292.4 L880.5,288 L883.5,283 L886.8,279.6 L890.5,280.8 L894,283.5 L897.5,288 L901,295" fill="none" stroke="#008080" stroke-width="1.9" stroke-dasharray="5.6 3.5" clip-path="url(#clc)" stroke-linejoin="round"/>
<line x1="217.9" y1="219.5" x2="252.4" y2="219.5" stroke="#ff0000" stroke-width="2.0"/>
<text x="255.7" y="224.3" font-size="14.25" text-anchor="start" >FRDM2012</text>
<line x1="217.9" y1="238" x2="252.4" y2="238" stroke="#0000ff" stroke-width="2.0" stroke-dasharray="11.3 8.2"/>
<text x="255.7" y="242.8" font-size="14.25" text-anchor="start" >KTUY05</text>
<line x1="217.9" y1="256.5" x2="252.4" y2="256.5" stroke="#ff00ff" stroke-width="2.0" stroke-dasharray="12.3 3.9 2.2 4.1"/>
<text x="255.7" y="261.3" font-size="14.25" text-anchor="start" >LDM1966</text>
<line x1="217.9" y1="275" x2="252.4" y2="275" stroke="#808000" stroke-width="2.0" stroke-dasharray="11 4.2 2.2 3.9 2.2 5.1"/>
<text x="255.7" y="279.8" font-size="14.25" text-anchor="start" >SkyHFB</text>
<line x1="217.9" y1="293.5" x2="252.4" y2="293.5" stroke="#008080" stroke-width="2.0" stroke-dasharray="5.6 3.5"/>
<text x="255.7" y="298.3" font-size="14.25" text-anchor="start" >WS4</text>
<line x1="550.4" y1="219.5" x2="584.9" y2="219.5" stroke="#ff0000" stroke-width="2.0"/>
<text x="588.2" y="224.3" font-size="14.25" text-anchor="start" >FRDM2012</text>
<line x1="550.4" y1="238" x2="584.9" y2="238" stroke="#0000ff" stroke-width="2.0" stroke-dasharray="11.3 8.2"/>
<text x="588.2" y="242.8" font-size="14.25" text-anchor="start" >KTUY05</text>
<line x1="550.4" y1="256.5" x2="584.9" y2="256.5" stroke="#ff00ff" stroke-width="2.0" stroke-dasharray="12.3 3.9 2.2 4.1"/>
<text x="588.2" y="261.3" font-size="14.25" text-anchor="start" >LDM1966</text>
<line x1="550.4" y1="275" x2="584.9" y2="275" stroke="#808000" stroke-width="2.0" stroke-dasharray="11 4.2 2.2 3.9 2.2 5.1"/>
<text x="588.2" y="279.8" font-size="14.25" text-anchor="start" >SkyHFB</text>
<line x1="550.4" y1="293.5" x2="584.9" y2="293.5" stroke="#008080" stroke-width="2.0" stroke-dasharray="5.6 3.5"/>
<text x="588.2" y="298.3" font-size="14.25" text-anchor="start" >WS4</text>
<line x1="872.7" y1="88" x2="907.2" y2="88" stroke="#ff0000" stroke-width="1.9"/>
<text x="910.5" y="92.8" font-size="14.25" text-anchor="start" >FRDM2012</text>
<line x1="872.7" y1="106.5" x2="907.2" y2="106.5" stroke="#0000ff" stroke-width="1.9" stroke-dasharray="11.3 8.2"/>
<text x="910.5" y="111.3" font-size="14.25" text-anchor="start" >KTUY05</text>
<line x1="872.7" y1="125" x2="907.2" y2="125" stroke="#ff00ff" stroke-width="1.9" stroke-dasharray="12.3 3.9 2.2 4.1"/>
<text x="910.5" y="129.8" font-size="14.25" text-anchor="start" >LDM1966</text>
<line x1="872.7" y1="143.5" x2="907.2" y2="143.5" stroke="#808000" stroke-width="1.9" stroke-dasharray="11 4.2 2.2 3.9 2.2 5.1"/>
<text x="910.5" y="148.3" font-size="14.25" text-anchor="start" >SkyHFB</text>
<line x1="872.7" y1="162" x2="907.2" y2="162" stroke="#008080" stroke-width="1.9" stroke-dasharray="5.6 3.5"/>
<text x="910.5" y="166.8" font-size="14.25" text-anchor="start" >WS4</text>
<text x="153.6" y="60.7" font-size="16.5" text-anchor="start" ><tspan font-size="11.5" dy="-7.0">48</tspan><tspan dy="7.0">Ca+</tspan><tspan font-size="11.5" dy="-7.0">248</tspan><tspan dy="7.0">Cm</tspan></text>
<path d="M244.4,56.5H260M256.1,53.4L260,56.5L256.1,59.6" fill="none" stroke="#000" stroke-width="0.9"/>
<text x="261" y="60.7" font-size="16.5" text-anchor="start" >116<tspan font-size="11.5" dy="-7.0" dx="1">*</tspan><tspan dy="7.0"></tspan></text>
<text x="488.8" y="60.7" font-size="16.5" text-anchor="start" ><tspan font-size="11.5" dy="-7.0">48</tspan><tspan dy="7.0">Ca+</tspan><tspan font-size="11.5" dy="-7.0">248</tspan><tspan dy="7.0">Cm</tspan></text>
<path d="M579.6,56.5H595.2M591.3,53.4L595.2,56.5L591.3,59.6" fill="none" stroke="#000" stroke-width="0.9"/>
<text x="596.2" y="60.7" font-size="16.5" text-anchor="start" >116<tspan font-size="11.5" dy="-7.0" dx="1">*</tspan><tspan dy="7.0"></tspan></text>
<text x="772" y="60.7" font-size="16.5" text-anchor="start" ><tspan font-size="11.5" dy="-7.0">48</tspan><tspan dy="7.0">Ca+</tspan><tspan font-size="11.5" dy="-7.0">248</tspan><tspan dy="7.0">Cm</tspan></text>
<path d="M862.8,56.5H878.4M874.5,53.4L878.4,56.5L874.5,59.6" fill="none" stroke="#000" stroke-width="0.9"/>
<text x="879.4" y="60.7" font-size="16.5" text-anchor="start" >116<tspan font-size="11.5" dy="-7.0" dx="1">*</tspan><tspan dy="7.0"> <tspan font-size="18.5" stroke="#000" stroke-width="0.45">@</tspan> J=0 ħ</tspan></text>
<text x="118.8" y="308.6" font-size="16.5" text-anchor="start" >(a)</text>
<text x="468.3" y="313.3" font-size="16.5" text-anchor="start" >(b)</text>
<text x="768.7" y="314.3" font-size="16.5" text-anchor="start" >(c)</text>
<text x="792.8" y="106.7" font-size="16.5" text-anchor="start" >2n</text>
<text x="824.7" y="161.9" font-size="16.5" text-anchor="start" >3n</text>
<text x="880.7" y="224.5" font-size="16.5" text-anchor="start" >4n</text>
<text x="921.5" y="304.5" font-size="16.5" text-anchor="start" >5n</text>
<text x="183.1" y="382.8" font-size="18">E</text>
<text x="195.1" y="387.9" font-size="12">CN</text>
<text x="194.6" y="375.0" font-size="11.5">*</text>
<text x="217.4" y="382.8" font-size="18">(MeV)</text>
<text x="507.5" y="382.8" font-size="18">E</text>
<text x="519.5" y="387.9" font-size="12">CN</text>
<text x="519" y="375.0" font-size="11.5">*</text>
<text x="541.8" y="382.8" font-size="18">(MeV)</text>
<text x="832" y="382.8" font-size="18">E</text>
<text x="844" y="387.9" font-size="12">CN</text>
<text x="843.5" y="375.0" font-size="11.5">*</text>
<text x="866.3" y="382.8" font-size="18">(MeV)</text>
<g transform="translate(54,182.2) rotate(-90)"><text x="0" y="0" font-size="18" text-anchor="middle"><tspan font-weight="normal">σ</tspan><tspan font-size="12" dy="5.3">cap</tspan><tspan dy="-5.3"> (mb)</tspan></text></g>
<g transform="translate(376.5,182) rotate(-90)"><text x="0" y="0" font-size="18" text-anchor="middle"><tspan font-weight="bold">P</tspan><tspan font-size="12" dy="5.3">CN</tspan><tspan dy="-5.3"></tspan></text></g>
<g transform="translate(700.6,181.6) rotate(-90)"><text x="0" y="0" font-size="18" text-anchor="middle"><tspan font-weight="bold">P</tspan><tspan font-size="12" dy="5.3">sur</tspan><tspan dy="-5.3"></tspan></text></g>
</svg>
</body></html>
